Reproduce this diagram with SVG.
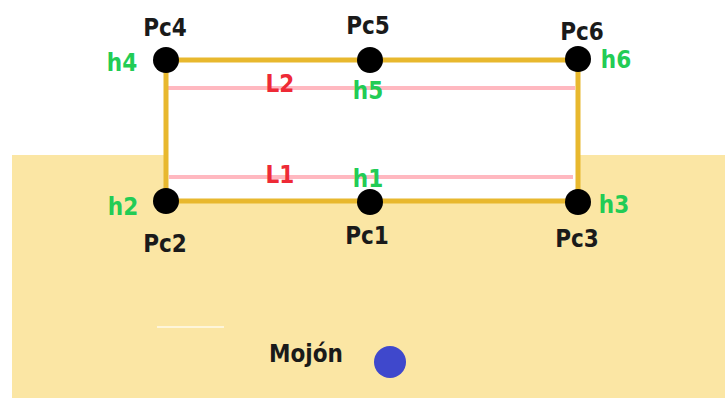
<svg xmlns="http://www.w3.org/2000/svg" width="725" height="399" viewBox="0 0 725 399">
<style>
.lbl{font-family:"DejaVu Sans Condensed","DejaVu Sans",Verdana,sans-serif;font-stretch:condensed;font-weight:bold;font-size:24px;text-anchor:middle}
.pc{fill:#1a1a1a}
.h{fill:#22cc55}
.l{fill:#ee2a36}
.side{stroke:#e8b82e;stroke-width:5;fill:none;stroke-linecap:square}
.ref{stroke:#ffb8c0;stroke-width:4;fill:none}
.dot{fill:#000}
</style>
<rect width="725" height="399" fill="#ffffff"/>
<rect x="12" y="155" width="713" height="243" fill="#fbe6a4"/>
<line x1="157" y1="327" x2="224" y2="327" stroke="#ffffff" stroke-width="1.5" opacity="0.8"/>
<rect x="166" y="60" width="412" height="141" fill="#ffffff"/>
<g id="connectors">
<line class="ref" x1="168" y1="88" x2="575" y2="88"/>
<line class="ref" x1="169" y1="177" x2="573" y2="177"/>
<polyline class="side" points="166,60 578,60 578,201 166,201 166,60"/>
</g>
<g id="Pc4"><circle class="dot" cx="166" cy="60" r="13"/><text class="lbl pc" x="165" y="36">Pc4</text><text class="lbl h" x="122" y="71">h4</text></g>
<g id="Pc5"><circle class="dot" cx="370" cy="60" r="13"/><text class="lbl pc" x="368" y="34">Pc5</text></g>
<g id="Pc6"><circle class="dot" cx="578" cy="59" r="13"/><text class="lbl pc" x="582" y="40">Pc6</text><text class="lbl h" x="616" y="68">h6</text></g>
<g id="Pc2"><circle class="dot" cx="166" cy="201" r="13"/><text class="lbl pc" x="165" y="252">Pc2</text><text class="lbl h" x="123" y="215">h2</text></g>
<g id="Pc1"><circle class="dot" cx="370" cy="202" r="13"/><text class="lbl pc" x="367" y="244">Pc1</text></g>
<g id="Pc3"><circle class="dot" cx="578" cy="202" r="13"/><text class="lbl pc" x="577" y="247">Pc3</text><text class="lbl h" x="614" y="213">h3</text></g>
<g id="L2"><text class="lbl l" x="280" y="92">L2</text></g>
<g id="h5"><text class="lbl h" x="368" y="99">h5</text></g>
<g id="L1"><text class="lbl l" x="280" y="183">L1</text></g>
<g id="h1"><text class="lbl h" x="368" y="187">h1</text></g>
<g id="Mojon"><text class="lbl pc" x="306" y="362">Mojón</text><circle cx="390" cy="362" r="16" fill="#3f48cc"/></g>
</svg>
